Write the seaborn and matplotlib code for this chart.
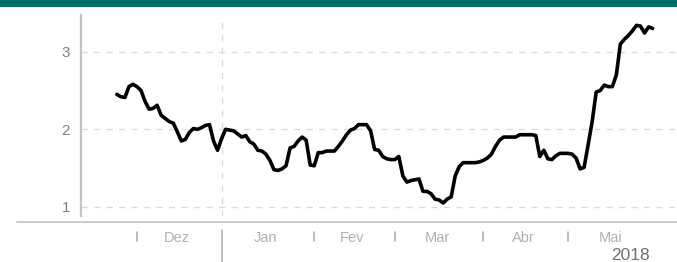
import numpy as np
import pandas as pd
import matplotlib
matplotlib.use("Agg")
import matplotlib.pyplot as plt
import matplotlib.transforms as mtransforms
from matplotlib.lines import Line2D
from matplotlib.patches import Rectangle
import seaborn as sns

# business days, Nov 24 2017 - May 30 2018
dates = pd.bdate_range("2017-11-24", "2018-05-30")
values = [
    2.45, 2.42, 2.41, 2.55, 2.58, 2.55, 2.50, 2.36, 2.26, 2.27,
    2.31, 2.18, 2.14, 2.10, 2.08, 1.97, 1.85, 1.87, 1.96, 2.01,
    2.00, 2.02, 2.05, 2.06, 1.85, 1.73, 1.88, 2.00, 1.99, 1.98,
    1.94, 1.90, 1.92, 1.84, 1.81, 1.73, 1.72, 1.68, 1.60, 1.48,
    1.47, 1.49, 1.53, 1.76, 1.78, 1.85, 1.90, 1.86, 1.54, 1.53,
    1.70, 1.70, 1.72, 1.72, 1.72, 1.78, 1.85, 1.93, 1.99, 2.01,
    2.06, 2.06, 2.06, 1.98, 1.74, 1.73, 1.65, 1.62, 1.61, 1.61,
    1.65, 1.40, 1.32, 1.34, 1.35, 1.36, 1.20, 1.20, 1.17, 1.10,
    1.09, 1.05, 1.10, 1.13, 1.40, 1.52, 1.57, 1.57, 1.57, 1.57,
    1.58, 1.60, 1.63, 1.68, 1.78, 1.86, 1.90, 1.90, 1.90, 1.90,
    1.93, 1.93, 1.93, 1.93, 1.92, 1.65, 1.73, 1.62, 1.61, 1.66,
    1.69, 1.69, 1.69, 1.68, 1.63, 1.49, 1.51, 1.80, 2.10, 2.48,
    2.50, 2.57, 2.55, 2.55, 2.70, 3.10, 3.16, 3.21, 3.27, 3.34,
    3.33, 3.24, 3.32, 3.30,
]
month_labels = ["Dez", "Jan", "Fev", "Mar", "Abr", "Mai"]
year_label = "2018"
y_ticks = [1, 2, 3]

df = pd.DataFrame({"pos": np.arange(len(dates)), "value": values, "date": dates})

sns.set_style("white")
plt.rcParams["font.family"] = ["Liberation Sans", "DejaVu Sans"]

W, H = 677, 262
fig = plt.figure(figsize=(W / 100, H / 100), dpi=100)
ax = fig.add_axes([81 / W, (H - 216) / H, 1 - 81 / W, 201 / H])

# month starts (first business day of each month)
month_start = df.groupby([df.date.dt.year, df.date.dt.month])["pos"].min().tolist()
month_start = month_start[1:]  # Dec .. May
bounds = month_start + [len(dates)]
year_pos = month_start[1]

# grid
for yv in y_ticks:
    ax.axhline(yv, color="#dcdcdc", lw=1, ls=(0, (4.5, 4.5)), zorder=0)
ax.axvline(year_pos, ymax=0.97, color="#dcdcdc", lw=1, ls=(0, (4.5, 4.5)), zorder=0)

sns.lineplot(data=df, x="pos", y="value", color="black", lw=2.6, ax=ax)

ax.set_xlim(-8.9, 139.06)
ax.set_ylim(0.883, 3.473)
ax.set_yticks(y_ticks)
ax.set_yticklabels([str(t) for t in y_ticks])
ax.set_xticks([])
ax.set_xlabel("")
ax.set_ylabel("")
ax.tick_params(axis="y", direction="inout", length=8, width=1.2,
               color="#c0c0c0", labelcolor="#808080", labelsize=11, pad=4)
for s in ["top", "right", "bottom"]:
    ax.spines[s].set_visible(False)
ax.spines["left"].set_color("#c4c4c4")
ax.spines["left"].set_linewidth(1.6)

# baseline under the plot
fig.add_artist(Line2D([17 / W, 1], [(H - 221.7) / H] * 2, color="#c8c8c8", lw=1.3))

# month ticks and labels below
tr = mtransforms.blended_transform_factory(ax.transData, fig.transFigure)
for p in month_start:
    if p == year_pos:
        ax.plot([p, p], [(H - 230) / H, 0], transform=tr, color="#b4b4b4",
                lw=1.2, clip_on=False)
    else:
        ax.plot([p, p], [(H - 231.5) / H, (H - 241) / H], transform=tr,
                color="#a8a8a8", lw=1.1, clip_on=False)
for lab, a, b in zip(month_labels, bounds[:-1], bounds[1:]):
    ax.text((a + b) / 2 - 0.5, (H - 238) / H, lab, transform=tr, ha="center",
            va="center", color="#b0b0b0", fontsize=10.5)
ax.text(127.5, (H - 255) / H, year_label, transform=tr, ha="center",
        va="center", color="#707070", fontsize=12.5)

# teal band at top
fig.add_artist(Rectangle((0, 1 - 7 / H), 1, 7 / H, transform=fig.transFigure,
                         color="#006e66", lw=0))

fig.savefig("out.png", dpi=100)
